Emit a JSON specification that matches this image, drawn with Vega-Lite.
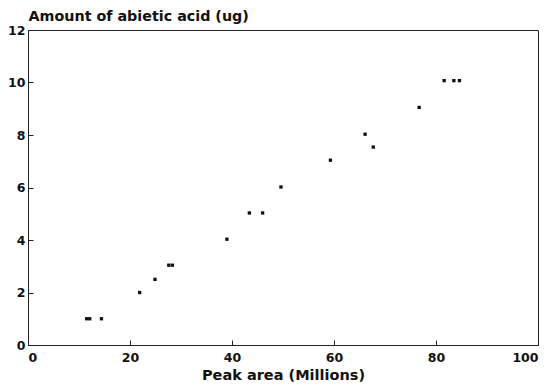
{
  "$schema": "https://vega.github.io/schema/vega-lite/v6.json",
  "width": 510,
  "height": 315,
  "autosize": {"type": "none"},
  "padding": {"left": 28, "top": 30, "right": 13, "bottom": 46},
  "background": "white",
  "config": {
    "view": {"stroke": "#222", "strokeWidth": 1},
    "font": "DejaVu Sans",
    "axis": {
      "grid": false,
      "domainColor": "#222",
      "tickColor": "#222",
      "labelColor": "#111",
      "titleColor": "#111",
      "labelFont": "DejaVu Sans",
      "titleFont": "DejaVu Sans",
      "labelFontWeight": "bold",
      "titleFontWeight": "bold",
      "labelFontSize": 12.5,
      "titleFontSize": 14.5
    }
  },
  "data": {
    "values": [
      {"area": 11.5, "amount": 1.0},
      {"area": 12.1, "amount": 1.0},
      {"area": 14.4, "amount": 1.0},
      {"area": 21.9, "amount": 2.0},
      {"area": 24.9, "amount": 2.5},
      {"area": 27.6, "amount": 3.04},
      {"area": 28.3, "amount": 3.04},
      {"area": 39.0, "amount": 4.03},
      {"area": 43.4, "amount": 5.03},
      {"area": 46.0, "amount": 5.03},
      {"area": 49.6, "amount": 6.02},
      {"area": 59.3, "amount": 7.04},
      {"area": 66.1, "amount": 8.03},
      {"area": 67.7, "amount": 7.54},
      {"area": 76.7, "amount": 9.05},
      {"area": 81.6, "amount": 10.07},
      {"area": 83.5, "amount": 10.07},
      {"area": 84.6, "amount": 10.07}
    ]
  },
  "mark": {"type": "square", "filled": true, "color": "#111", "size": 11, "opacity": 1},
  "encoding": {
    "x": {
      "field": "area",
      "type": "quantitative",
      "scale": {"domain": [0, 100], "nice": false, "zero": true},
      "axis": {
        "values": [0, 20, 40, 60, 80, 100],
        "tickSize": -5,
        "labelPadding": 11,
        "title": "Peak area (Millions)",
        "titlePadding": 5
      }
    },
    "y": {
      "field": "amount",
      "type": "quantitative",
      "scale": {"domain": [0, 12], "nice": false},
      "axis": {
        "values": [0, 2, 4, 6, 8, 10, 12],
        "tickSize": -5,
        "labelPadding": 8,
        "title": "Amount of abietic acid (ug)",
        "titleFontSize": 14.3,
        "titleAngle": 0,
        "titleAlign": "left",
        "titleBaseline": "alphabetic",
        "titleX": 0,
        "titleY": -10
      }
    }
  }
}
